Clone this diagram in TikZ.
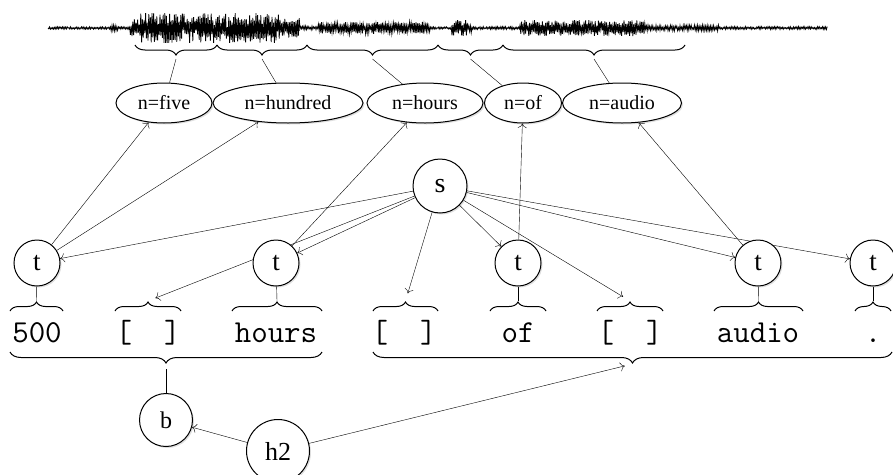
\documentclass[tikz,border=0pt]{standalone}
\usepackage{fontspec}
\setmainfont{Liberation Serif}
\usetikzlibrary{shapes.geometric,shadows,decorations.pathreplacing,arrows.meta}
\pgfdeclarelayer{bg}
\pgfsetlayers{bg,main}
\begin{document}
\begin{tikzpicture}[x=1pt,y=-1pt,line width=1pt,
  declare function={amp(\t)=(\t<110)?1.2:((\t<118)?3:((\t<130)?1.2:((\t<140)?9:((\t<280)?15:((\t<300)?10:((\t<318)?2:((\t<430)?6:((\t<452)?1.2:((\t<472)?8:((\t<520)?1.5:((\t<645)?8:((\t<720)?3:1.5))))))))))));},
  shad/.style={drop shadow={opacity=0.25,shadow xshift=1.5pt,shadow yshift=-1.5pt}},
  circ/.style={circle,draw,fill=white,inner sep=0pt,minimum size=#1,shad},
  ell/.style={ellipse,draw,fill=white,inner sep=0pt,minimum height=40pt,minimum width=#1,shad,font=\fontsize{20}{20}\selectfont},
  tok/.style={anchor=base,inner sep=0pt,font=\ttfamily\fontsize{32}{32}\selectfont},
  brup/.style={decorate,decoration={brace,amplitude=#1}},
  brdown/.style={decorate,decoration={brace,amplitude=#1,mirror}},
  arr/.style={-{To[length=4.5pt,width=9pt]}},
]
\useasboundingbox (0,0) rectangle (893,474);

% waveform
\pgfmathsetseed{12}
\draw[line width=0.8pt] (48,28) \foreach \x [count=\i] in {48.8,49.6,...,828}{ -- (\x,{28+(2*mod(\i,2)-1)*amp(\x)*sqrt(rnd)}) };

% top braces
\draw[brdown=10pt] (135,45) -- (217,45);
\draw[brdown=10pt] (217,45) -- (307,45);
\draw[brdown=10pt] (307,45) -- (438,45);
\draw[brdown=10pt] (438,45) -- (503,45);
\draw[brdown=10pt] (503,45) -- (685,45);
\coordinate (c1) at (176,59);
\coordinate (c2) at (262,59);
\coordinate (c3) at (372.5,59);
\coordinate (c4) at (470.5,59);
\coordinate (c5) at (594,59);

% ellipses
\node[ell=96pt] (five) at (164,103) {n=five};
\node[ell=150pt] (hundred) at (288,103) {n=hundred};
\node[ell=116pt] (hours) at (425,103) {n=hours};
\node[ell=77pt] (of) at (523,103) {n=of};
\node[ell=119pt] (audio) at (622,103) {n=audio};

% circles
\node[circ=46pt,font=\fontsize{27}{27}\selectfont] (t1) at (37,263) {t};
\node[circ=46pt,font=\fontsize{27}{27}\selectfont] (t2) at (276,263) {t};
\node[circ=46pt,font=\fontsize{27}{27}\selectfont] (t3) at (518,263) {t};
\node[circ=46pt,font=\fontsize{27}{27}\selectfont] (t4) at (758,263) {t};
\node[circ=46pt,font=\fontsize{27}{27}\selectfont] (t5) at (873,263) {t};
\node[circ=54pt,font=\fontsize{28}{28}\selectfont] (s) at (440,186) {s};
\node[circ=53pt,font=\fontsize{24}{24}\selectfont] (b) at (166,420) {b};
\node[circ=63pt,font=\fontsize{26}{26}\selectfont] (h2) at (278,451) {h2};

% tokens
\node[tok] (w1) at (37,342) {500};
\node[tok] (w2) at (148,342) {[\hspace*{32pt}]};
\node[tok] (w3) at (276,342) {hours};
\node[tok] (w4) at (404,342) {[\hspace*{32pt}]};
\node[tok] (w5) at (518,342) {of};
\node[tok] (w6) at (630,342) {[\hspace*{32pt}]};
\node[tok] (w7) at (758,342) {audio};
\node[tok] (w8) at (873,342) {.};

% token braces
\draw[brup=9pt] (10,311) -- (63,311);
\draw[brup=9pt] (115,311) -- (181,311);
\draw[brup=9pt] (232,311) -- (322,311);
\draw[brup=9pt] (373,311) -- (438,311);
\draw[brup=9pt] (490,311) -- (546,311);
\draw[brup=9pt] (597,311) -- (663,311);
\draw[brup=9pt] (714,311) -- (803,311);
\draw[brup=9pt] (855,311) -- (891,311);
\coordinate (k1) at (36.5,301);
\coordinate (k2) at (148,301);
\coordinate (k3) at (277,301);
\coordinate (k4) at (405.5,301);
\coordinate (k5) at (518,301);
\coordinate (k6) at (630,301);
\coordinate (k7) at (758.5,301);
\coordinate (k8) at (873,301);

% big braces
\draw[brdown=11pt] (10,352) -- (322,352);
\draw[brdown=11pt] (373,352) -- (892,352);
\coordinate (g1) at (166,369);
\coordinate (g2) at (632.5,364);

\begin{pgfonlayer}{bg}
\draw (c1) -- (five);
\draw (c2) -- (hundred);
\draw (c3) -- (hours);
\draw (c4) -- (of);
\draw (c5) -- (audio);
\draw[arr] (t1) -- (five);
\draw[arr] (t1) -- (hundred);
\draw[arr] (t2) -- (hours);
\draw[arr] (t3) -- (of);
\draw[arr] (t4) -- (audio);
\draw[arr] (s) -- (t1);
\draw[arr] (s) -- (t2);
\draw[arr] (s) -- (t3);
\draw[arr] (s) -- (t4);
\draw[arr] (s) -- (t5);
\draw[arr,shorten >=8pt] (s) -- (k2);
\draw[arr,shorten >=8pt] (s) -- (k4);
\draw[arr,shorten >=8pt] (s) -- (k6);
\draw (t1) -- (k1);
\draw (t2) -- (k3);
\draw (t3) -- (k5);
\draw (t4) -- (k7);
\draw (t5) -- (k8);
\draw (b) -- (g1);
\draw[arr] (h2) -- (b);
\draw[arr,shorten >=8pt] (h2) -- (g2);
\end{pgfonlayer}
\end{tikzpicture}
\end{document}
